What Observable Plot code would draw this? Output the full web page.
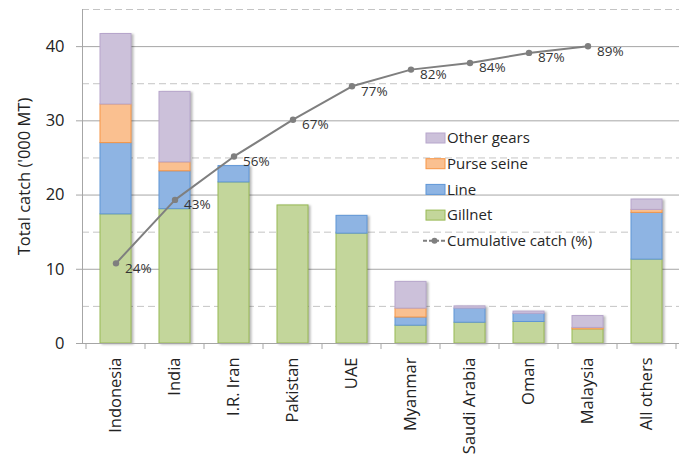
<!DOCTYPE html>
<html>
<head>
<meta charset="utf-8">
<script src="https://cdn.jsdelivr.net/npm/d3@7"></script>
<script src="https://cdn.jsdelivr.net/npm/@observablehq/plot@0.6"></script>
<style>
  html, body { margin: 0; padding: 0; background: #fff; }
  #chart svg { font-family: "Open Sans", sans-serif; }
  #chart g[aria-label="bar"] { filter: drop-shadow(2px 1px 1.2px rgba(0,0,0,0.28)); }
</style>
</head>
<body>
<div id="chart"></div>
<script>
const countries = ["Indonesia", "India", "I.R. Iran", "Pakistan", "UAE", "Myanmar", "Saudi Arabia", "Oman", "Malaysia", "All others"];
const gillnet   = [17.4, 18.1, 21.7, 18.6, 14.8, 2.4, 2.8, 2.9, 1.9, 11.3];
const lineGear  = [9.6, 5.1, 2.2, 0, 2.4, 1.1, 1.9, 1.1, 0, 6.3];
const purseSeine= [5.2, 1.2, 0, 0, 0, 1.2, 0, 0, 0.2, 0.4];
const otherGears= [9.5, 9.5, 0, 0, 0, 3.6, 0.3, 0.3, 1.6, 1.4];
const cumulativePct = [24, 43, 56, 67, 77, 82, 84, 87, 89];
const seriesNames = ["Gillnet", "Line", "Purse seine", "Other gears"];
const seriesFill   = ["#c3d69b", "#8eb4e3", "#fac090", "#ccc1da"];
const seriesStroke = ["#98b954", "#5f96d6", "#f79646", "#b7a6cc"];
const lineName = "Cumulative catch (%)";
const majorTicks = [0, 10, 20, 30, 40];
const minorTicks = [5, 15, 25, 35, 45];

const seriesValues = [gillnet, lineGear, purseSeine, otherGears];
const barData = [];
seriesNames.forEach((s, si) => countries.forEach((c, ci) => {
  barData.push({country: c, series: s, value: seriesValues[si][ci]});
}));
const cumData = cumulativePct.map((p, i) => ({country: countries[i], pct: p}));
// secondary (hidden) axis 0–100% maps onto primary 0–45
const toPrimary = p => p * 45 / 100;

function xBoundaryTicks(index, scales, values, dims) {
  const x = scales.x;
  const dom = x.domain();
  const step = x(dom[1]) - x(dom[0]);
  const bw = x.bandwidth ? x.bandwidth() : step * 0.52;
  const y0 = dims.height - dims.marginBottom;
  const g = d3.create("svg:g").attr("stroke", "#a6a6a6").attr("stroke-width", 1);
  const edges = dom.map(d => x(d) - (step - bw) / 2);
  edges.push(x(dom[dom.length - 1]) + bw + (step - bw) / 2);
  edges.forEach(e => g.append("line").attr("x1", e).attr("x2", e).attr("y1", y0).attr("y2", y0 + 6));
  return g.node();
}

function legend() {
  const g = d3.create("svg:g").attr("font-size", 15).attr("fill", "#262626").attr("text-anchor", "start");
  const x0 = 426, y0 = 138, gap = 25.7;
  const items = seriesNames.map((s, i) => ({name: s, fill: seriesFill[i], stroke: seriesStroke[i]})).reverse();
  items.forEach((it, i) => {
    const y = y0 + i * gap;
    g.append("rect").attr("x", x0).attr("y", y - 5).attr("width", 19).attr("height", 10)
      .attr("fill", it.fill).attr("stroke", it.stroke).attr("stroke-width", 1);
    g.append("text").attr("x", x0 + 21).attr("y", y).attr("dy", "0.35em").text(it.name);
  });
  const yl = y0 + items.length * gap;
  g.append("line").attr("x1", x0 - 3).attr("x2", x0 + 20).attr("y1", yl).attr("y2", yl)
    .attr("stroke", "#7f7f7f").attr("stroke-width", 2).attr("stroke-dasharray", "4,2");
  g.append("circle").attr("cx", x0 + 8.5).attr("cy", yl).attr("r", 3).attr("fill", "#7f7f7f");
  g.append("text").attr("x", x0 + 21).attr("y", yl).attr("dy", "0.35em").text(lineName);
  return g.node();
}

const chart = Plot.plot({
  width: 686,
  height: 454,
  marginLeft: 82,
  marginRight: 7,
  marginTop: 9,
  marginBottom: 111,
  style: {fontFamily: "'Open Sans', sans-serif", color: "#333"},
  x: {domain: countries, paddingInner: 0.48, paddingOuter: 0.24, label: null},
  y: {domain: [0, 45], label: null},
  color: {domain: seriesNames, range: seriesFill},
  marks: [
    Plot.ruleY(minorTicks, {stroke: "#c4c4c4", strokeDasharray: "7,4", strokeWidth: 1}),
    Plot.ruleY(majorTicks.filter(d => d > 0), {stroke: "#a6a6a6", strokeWidth: 1}),
    Plot.barY(barData, Plot.stackY({
      x: "country", y: "value", z: "series", order: seriesNames,
      fill: d => seriesFill[seriesNames.indexOf(d.series)],
      stroke: d => seriesStroke[seriesNames.indexOf(d.series)],
      strokeWidth: 1
    })),
    Plot.frame({anchor: "left", stroke: "#a6a6a6"}),
    Plot.ruleY([0], {stroke: "#a6a6a6"}),
    Plot.axisY({ticks: majorTicks, tickSize: 6, tickPadding: 12, fontSize: 16.5, stroke: "#a6a6a6",
      label: "Total catch ('000 MT)", labelAnchor: "center", labelArrow: "none", labelOffset: 64, fill: "#222"}),
    Plot.axisX({tickSize: 0, tickRotate: -90, tickPadding: 14, fontSize: 16.5, fill: "#222"}),
    xBoundaryTicks,
    Plot.line(cumData, {x: "country", y: d => toPrimary(d.pct), stroke: "#7f7f7f", strokeWidth: 2}),
    Plot.dot(cumData, {x: "country", y: d => toPrimary(d.pct), r: 3.2, fill: "#7f7f7f"}),
    Plot.text(cumData, {x: "country", y: d => toPrimary(d.pct), text: d => d.pct + "%",
      dx: 9, dy: 5, textAnchor: "start", fontSize: 13.5, fill: "#333"}),
    legend
  ]
});
document.getElementById("chart").appendChild(chart);
</script>
</body>
</html>
